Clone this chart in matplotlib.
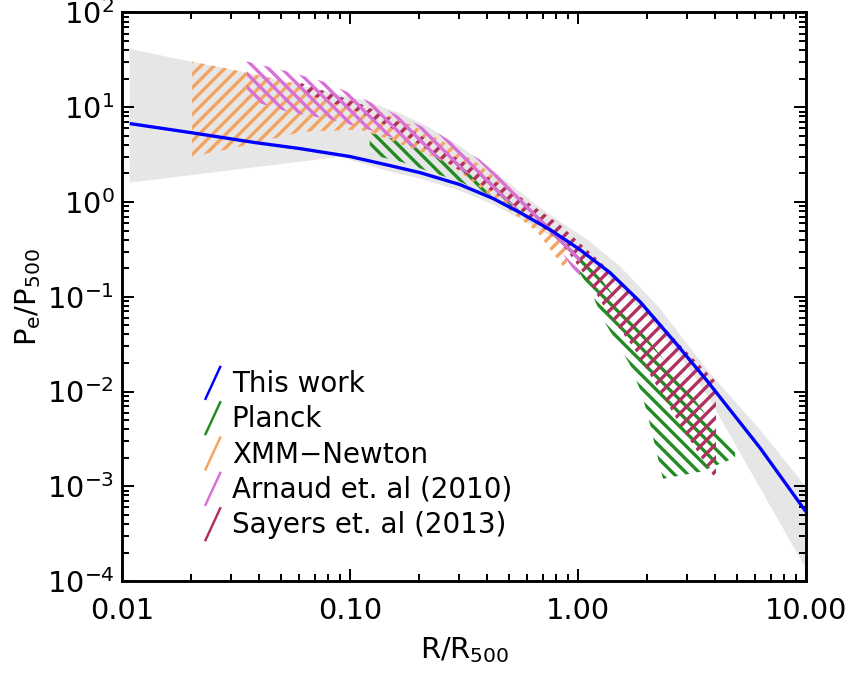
import numpy as np
import matplotlib
matplotlib.use("Agg")
import matplotlib.pyplot as plt
from matplotlib.ticker import LogLocator, FixedLocator, FuncFormatter, NullFormatter

# ---- data -------------------------------------------------------------
# Pressure model of this work (R/R500, Pe/P500)
model_r = [0.0108, 0.0199, 0.0383, 0.0604, 0.100, 0.150, 0.203, 0.303, 0.424,
           0.557, 0.753, 1.02, 1.38, 1.87, 2.72, 3.68, 6.28, 10.0]
model_p = [6.73, 5.41, 4.24, 3.66, 3.02, 2.42, 2.04, 1.53, 1.09,
           0.773, 0.512, 0.314, 0.180, 0.0887, 0.0312, 0.0130, 0.00255, 0.000538]

# Spread of the model (grey envelope)
band_upper_r = [0.0108, 0.0180, 0.0353, 0.111, 0.166, 0.218, 0.303, 0.40, 0.504, 0.65,
                0.834, 1.10, 1.53, 2.29, 3.68, 6.28, 10.0]
band_upper_p = [41.4, 31.9, 23.2, 12.1, 8.6, 6.3, 3.9, 2.4, 1.55, 0.95,
                0.62, 0.40, 0.21, 0.075, 0.0170, 0.00395, 0.00099]
band_lower_r = [0.0108, 0.0903, 0.150, 0.203, 0.303, 0.424, 0.557, 0.753, 1.02, 1.38, 1.87,
                2.72, 3.68, 6.28, 10.0]
band_lower_p = [1.60, 3.00, 2.09, 1.77, 1.32, 0.94, 0.668, 0.442, 0.272, 0.155, 0.0767,
                0.0263, 0.00925, 0.000964, 0.000135]

# Planck
planck_upper_r = [0.122, 0.166, 0.224, 0.303, 0.455, 0.681, 0.922, 1.25, 1.87, 2.80, 3.79, 4.89]
planck_upper_p = [5.4, 4.45, 3.4, 2.48, 1.49, 0.684, 0.355, 0.159, 0.045, 0.0133, 0.0050, 0.0023]
planck_lower_r = [0.122, 0.166, 0.224, 0.303, 0.455, 0.681, 0.922, 1.13, 1.29, 1.69, 1.91,
                  2.03, 2.13, 2.24, 2.36, 3.43, 4.89]
planck_lower_p = [3.17, 2.67, 2.09, 1.64, 1.06, 0.537, 0.259, 0.119, 0.0573, 0.0192, 0.00925,
                  0.00542, 0.00333, 0.0020, 0.0012, 0.00142, 0.0020]

# XMM-Newton
xmm_upper_r = [0.0203, 0.0336, 0.0604, 0.111, 0.166, 0.248, 0.371, 0.557, 0.895]
xmm_upper_p = [30.4, 23.8, 17.4, 10.7, 7.42, 4.56, 2.48, 1.06, 0.355]
xmm_lower_r = [0.0203, 0.0330, 0.0622, 0.111, 0.136, 0.231, 0.283, 0.661, 0.895]
xmm_lower_p = [3.02, 3.85, 5.54, 5.82, 4.91, 3.02, 2.36, 0.486, 0.184]

# Arnaud et al. (2010)
arnaud_upper_r = [0.0353, 0.0535, 0.0763, 0.116, 0.166, 0.248, 0.371, 0.557, 0.834, 1.02]
arnaud_upper_p = [30.4, 23.8, 18.7, 12.1, 7.98, 5.15, 2.80, 1.20, 0.453, 0.279]
arnaud_lower_r = [0.0353, 0.053, 0.0817, 0.113, 0.163, 0.248, 0.371, 0.557, 0.834, 1.02]
arnaud_lower_p = [12.1, 9.0, 7.42, 6.1, 4.56, 2.80, 1.72, 0.79, 0.314, 0.152]

# Sayers et al. (2013)
sayers_upper_r = [0.0604, 0.111, 0.166, 0.303, 0.557, 0.834, 1.25, 1.87, 2.80, 4.03]
sayers_upper_p = [18.2, 10.9, 6.89, 2.80, 1.14, 0.577, 0.235, 0.0931, 0.0312, 0.0127]
sayers_lower_r = [0.0604, 0.111, 0.166, 0.303, 0.557, 0.834, 1.07, 1.35, 1.74, 2.24, 2.89, 4.03]
sayers_lower_p = [14.6, 8.79, 5.41, 2.15, 0.832, 0.382, 0.171, 0.0679, 0.0297, 0.011, 0.00395, 0.00117]

legend_labels = ["This work", "Planck", "XMM\u2212Newton", "Arnaud et. al (2010)", "Sayers et. al (2013)"]
legend_colors = ["#0000FF", "#228B22", "#F4A460", "#DA70D6", "#B03060"]

x_ticks = [0.01, 0.1, 1.0, 10.0]

# ---- style ------------------------------------------------------------
DPI = 80
plt.rcParams["font.family"] = ["DejaVu Sans"]
plt.rcParams["mathtext.default"] = "regular"
plt.rcParams["hatch.linewidth"] = 3.0
FS = 26

fig = plt.figure(figsize=(851 / DPI, 683 / DPI), dpi=DPI)
ax = fig.add_axes([0.1434, 0.1493, 0.8037, 0.8324])
ax.set_xscale("log")
ax.set_yscale("log")
ax.set_xlim(0.01, 10.0)
ax.set_ylim(1e-4, 1e2)

# grey envelope of the model
ax.fill(np.concatenate([band_upper_r, band_lower_r[::-1]]),
        np.concatenate([band_upper_p, band_lower_p[::-1]]),
        facecolor="#E6E6E6", edgecolor="none", zorder=1)


def hatched(r_up, p_up, r_lo, p_lo, color, hatch, z):
    ax.fill(np.concatenate([r_up, r_lo[::-1]]),
            np.concatenate([p_up, p_lo[::-1]]),
            facecolor="none", edgecolor=color, linewidth=0, hatch=hatch, zorder=z)


hatched(planck_upper_r, planck_upper_p, planck_lower_r, planck_lower_p, legend_colors[1], "\\\\", 2)
hatched(xmm_upper_r, xmm_upper_p, xmm_lower_r, xmm_lower_p, legend_colors[2], "//", 3)
hatched(sayers_upper_r, sayers_upper_p, sayers_lower_r, sayers_lower_p, legend_colors[4], "//", 4)
hatched(arnaud_upper_r, arnaud_upper_p, arnaud_lower_r, arnaud_lower_p, legend_colors[3], "\\\\", 5)

ax.plot(model_r, model_p, color=legend_colors[0], lw=3.0, zorder=6, solid_capstyle="butt")

# legend: slanted colour strokes followed by the label
for i, (lab, col) in enumerate(zip(legend_labels, legend_colors)):
    yb = 0.3327 - 0.06215 * i
    ax.plot([0.1213, 0.1443], [yb - 0.0141, yb + 0.0458], color=col, lw=2.2,
            transform=ax.transAxes, zorder=7, solid_capstyle="butt")
    ax.text(0.1604, yb, lab, transform=ax.transAxes, fontsize=FS - 1,
            ha="left", va="baseline", color="black", zorder=7)

# axes decoration
for s in ax.spines.values():
    s.set_linewidth(2.6)
    s.set_zorder(10)

ax.xaxis.set_major_locator(FixedLocator(x_ticks))
ax.xaxis.set_major_formatter(FuncFormatter(lambda v, p: f"{v:.2f}"))
ax.xaxis.set_minor_locator(LogLocator(base=10, subs=np.arange(2, 10), numticks=20))
ax.xaxis.set_minor_formatter(NullFormatter())
ax.yaxis.set_major_locator(LogLocator(base=10, numticks=20))
ax.yaxis.set_minor_locator(LogLocator(base=10, subs=np.arange(2, 10), numticks=20))
ax.yaxis.set_minor_formatter(NullFormatter())

ax.tick_params(which="both", direction="in", top=True, right=True, width=1.8, colors="black")
ax.tick_params(which="major", length=11)
ax.tick_params(which="minor", length=6)
ax.tick_params(axis="x", which="major", labelsize=FS, pad=14)
ax.tick_params(axis="y", which="major", labelsize=FS, pad=7)

ax.set_xlabel(r"R/R$_{500}$", fontsize=FS, labelpad=10)
ax.set_ylabel(r"P$_{e}$/P$_{500}$", fontsize=FS, labelpad=3)

fig.savefig("out.png", dpi=DPI)
